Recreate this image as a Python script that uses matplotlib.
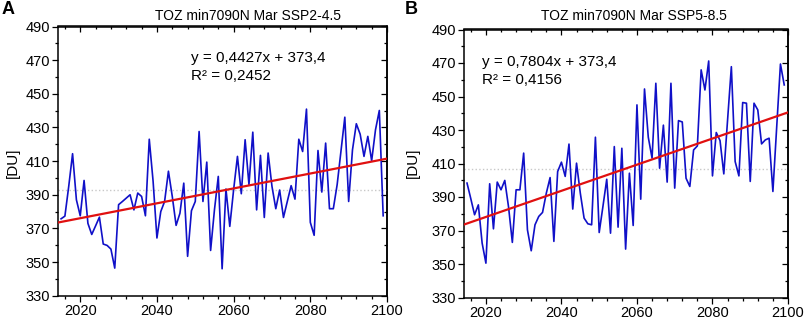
import numpy as np
import matplotlib
matplotlib.use('Agg')
import matplotlib.pyplot as plt
from matplotlib.ticker import MultipleLocator, FixedLocator

plt.rcParams['font.family'] = ['Liberation Sans', 'DejaVu Sans']

years = np.arange(2015, 2100)

toz_ssp245 = [
    375.7, 377.3, 395.0, 414.4, 387.0, 377.5, 398.5, 373.0, 366.4, 371.5,
    376.7, 360.7, 359.9, 357.7, 346.4, 384.1, 386.0, 388.0, 390.0, 381.0,
    391.0, 389.0, 377.5, 423.0, 398.0, 364.3, 380.0, 386.0, 404.0, 389.0,
    371.8, 379.0, 396.9, 353.4, 380.5, 386.0, 427.6, 386.0, 409.4, 356.9,
    381.0, 400.9, 346.0, 393.4, 371.2, 393.0, 412.8, 390.6, 422.7, 396.0,
    427.2, 381.0, 413.4, 376.5, 414.8, 395.0, 381.7, 392.8, 376.5, 386.0,
    395.4, 387.4, 423.0, 415.7, 440.9, 373.6, 365.9, 416.3, 391.6, 420.7,
    381.7, 381.7, 396.0, 416.0, 436.1, 386.0, 416.7, 432.2, 426.0, 412.8,
    424.7, 410.2, 428.6, 440.1, 377.5,
]

toz_ssp585 = [
    398.3, 389.0, 379.4, 385.3, 362.5, 350.5, 397.9, 371.0, 398.9, 394.3,
    399.9, 384.0, 362.9, 394.3, 394.3, 416.2, 370.4, 357.9, 373.4, 378.4,
    380.8, 392.3, 401.6, 363.5, 405.2, 410.8, 402.3, 421.6, 382.8, 410.2,
    392.3, 377.4, 374.0, 373.4, 425.7, 368.8, 384.5, 400.6, 368.4, 420.1,
    372.0, 419.1, 358.9, 404.2, 373.0, 445.0, 388.7, 454.5, 425.7, 413.2,
    457.9, 407.2, 432.9, 398.9, 457.9, 395.3, 435.6, 434.8, 401.2, 396.3,
    418.1, 420.5, 465.9, 453.9, 471.2, 402.6, 428.5, 423.7, 403.8, 436.0,
    467.8, 411.2, 402.6, 446.4, 446.0, 399.3, 446.0, 442.0, 421.7, 424.1,
    425.1, 393.3, 431.5, 469.4, 456.9,
]

titles = ['TOZ min7090N Mar SSP2-4.5', 'TOZ min7090N Mar SSP5-8.5']
letters = ['A', 'B']
slopes = [0.4427, 0.7804]
intercepts = [373.4, 373.4]
r2_values = ['0,2452', '0,4156']
yticks = np.arange(330, 491, 20)

W, H = 809, 323
fig = plt.figure(figsize=(W / 100, H / 100), dpi=100)

# axes boxes in pixels: left, top, right, bottom
boxes = [(58, 26.5, 387, 295.7), (464, 29.5, 788, 297.5)]
title_x = [248, 634]
letter_x = [2, 405]
ylab_x = [13, 413]
eq_pos = [(0.404, 0.883, 0.816), (0.055, 0.880, 0.812)]


def set_ticks(axis_x, axis_y):
    if axis_x is not None:
        axis_x.set_major_locator(MultipleLocator(20))
        axis_x.set_minor_locator(MultipleLocator(4))
    if axis_y is not None:
        axis_y.set_major_locator(FixedLocator(yticks))
        axis_y.set_minor_locator(FixedLocator(np.arange(340, 490, 20)))


for i, series in enumerate([toz_ssp245, toz_ssp585]):
    l, t, r, b = boxes[i]
    ax = fig.add_axes([l / W, 1 - b / H, (r - l) / W, (b - t) / H])
    x0, x1 = 2014.2, 2100

    ax.plot(years, series, color='#1010c8', lw=1.2, zorder=3)
    ax.axhline(np.mean(series), color='#c8c8c8', lw=1.0, ls=':', zorder=1)
    xt = np.array([x0, x1])
    ax.plot(xt, slopes[i] * (xt - 2014) + intercepts[i], color='#e01010', lw=1.6, zorder=4)

    ax.set_xlim(x0, x1)
    ax.set_ylim(330, 490)
    set_ticks(ax.xaxis, ax.yaxis)
    ax.tick_params(which='both', direction='out', top=False, right=False, labelsize=10.5, width=0.9)
    ax.tick_params(which='major', length=4, pad=2)
    ax.tick_params(which='minor', length=2.5)
    # mirrored ticks pointing inward on top / right
    sx = ax.secondary_xaxis('top')
    set_ticks(sx.xaxis, None)
    sx.tick_params(which='both', direction='in', labeltop=False, width=0.9)
    sx.tick_params(which='major', length=4)
    sx.tick_params(which='minor', length=2.5)
    sy = ax.secondary_yaxis('right')
    set_ticks(None, sy.yaxis)
    sy.tick_params(which='both', direction='in', labelright=False, width=0.9)
    sy.tick_params(which='major', length=4)
    sy.tick_params(which='minor', length=2.5)
    for s in list(ax.spines.values()) + [sx.spines['top'], sy.spines['right']]:
        s.set_linewidth(1.1)

    ex, ey1, ey2 = eq_pos[i]
    ax.text(ex, ey1, f'y = {slopes[i]:.4f}x + {intercepts[i]:.1f}'.replace('.', ','),
            transform=ax.transAxes, fontsize=11, va='center', ha='left')
    ax.text(ex, ey2, f'R² = {r2_values[i]}', transform=ax.transAxes,
            fontsize=11, va='center', ha='left')

    fig.text(title_x[i] / W, 1 - 16 / H, titles[i], fontsize=10, ha='center', va='center')
    fig.text(letter_x[i] / W, 1 - 1 / H, letters[i], fontsize=13, weight='bold', ha='left', va='top')
    fig.text(ylab_x[i] / W, 1 - 163 / H, '[DU]', fontsize=11, rotation=90, ha='center', va='center')

fig.savefig('out.png', dpi=100)
